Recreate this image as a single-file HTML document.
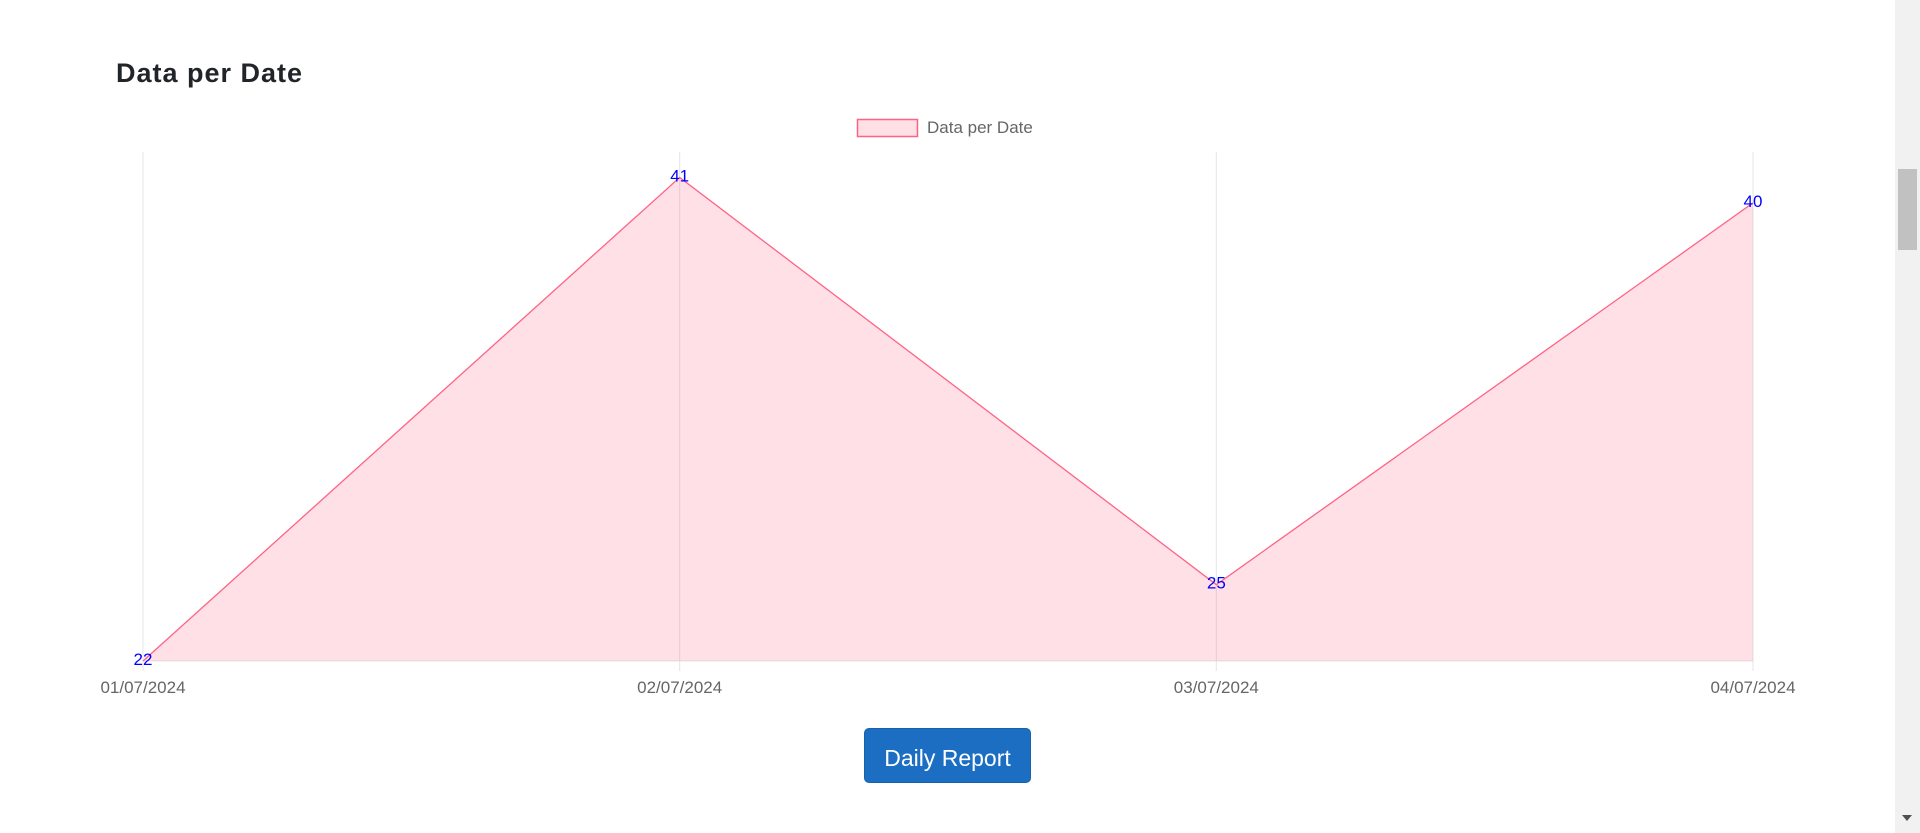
<!DOCTYPE html>
<html><head><meta charset="utf-8"><style>
html,body{margin:0;padding:0;width:1920px;height:833px;overflow:hidden;background:#fff;font-family:"Liberation Sans",sans-serif}
#title{position:absolute;left:116px;top:58px;font-size:27px;font-weight:bold;color:#212529;margin:0;letter-spacing:1px}
#btn{position:absolute;left:864px;top:728px;width:167px;height:55px;background:#1b6ec2;border:1px solid #1861ac;border-radius:5px;color:#fff;font-size:23px;font-family:"Liberation Sans",sans-serif;box-sizing:border-box;padding-top:6px}
#sb{position:absolute;left:1895px;top:0;width:25px;height:833px;background:#f1f1f1}
#thumb{position:absolute;left:3px;top:169px;width:19px;height:81px;background:#c1c1c1}
</style></head><body>
<h2 id="title">Data per Date</h2>
<svg id="chart" width="1895" height="720" style="position:absolute;left:0;top:0"></svg>
<button id="btn">Daily Report</button>
<div id="sb"><div id="thumb"></div>
<div style="position:absolute;left:7px;top:815px;width:0;height:0;border-left:5px solid transparent;border-right:5px solid transparent;border-top:6px solid #505050"></div></div>
<script>
const categories=["01/07/2024","02/07/2024","03/07/2024","04/07/2024"];
const values=[22,41,25,40];
const yMin=22,yMax=42;
const NS="http://www.w3.org/2000/svg";
const svg=document.getElementById('chart');
const L=143,R=1753,T=152,B=661;
const x=i=>L+(R-L)*i/(categories.length-1);
const y=v=>B-(v-yMin)/(yMax-yMin)*(B-T);
function mk(t,a){const e=document.createElementNS(NS,t);for(const k in a)e.setAttribute(k,a[k]);svg.appendChild(e);return e;}
categories.forEach((c,i)=>{
 const g=mk('line',{x1:x(i),x2:x(i),y1:T,y2:B+10,stroke:'#e5e5e5','stroke-width':1});
 
 
 const t=mk('text',{x:x(i),y:693,'text-anchor':'middle','font-size':17,fill:'#666','font-family':'Liberation Sans'});
 t.textContent=c;
 
 
});
const ax=mk('line',{x1:L,x2:R,y1:B,y2:B,stroke:'#e5e5e5','stroke-width':1});


let d=values.map((v,i)=>(i?'L':'M')+x(i)+','+y(v)).join(' ');
const area=mk('path',{d:d+` L${x(values.length-1)},${B} L${x(0)},${B} Z`,fill:'rgba(255,99,132,0.2)',stroke:'none'});


const line=mk('path',{d:d,fill:'none',stroke:'#ff6384','stroke-width':1.3});


values.forEach((v,i)=>{
 const t=mk('text',{x:x(i),y:y(v)+4,'text-anchor':'middle','font-size':17,fill:'#0000ff','font-family':'Liberation Sans'});
 t.textContent=v;
 
 
});
const lb=mk('rect',{x:857.5,y:119.5,width:60,height:17,fill:'rgba(255,99,132,0.2)',stroke:'#ff6384','stroke-width':1.5});


const lt=mk('text',{x:927,y:133,'font-size':17,fill:'#666','font-family':'Liberation Sans'});
lt.textContent='Data per Date';


</script>
</body></html>
